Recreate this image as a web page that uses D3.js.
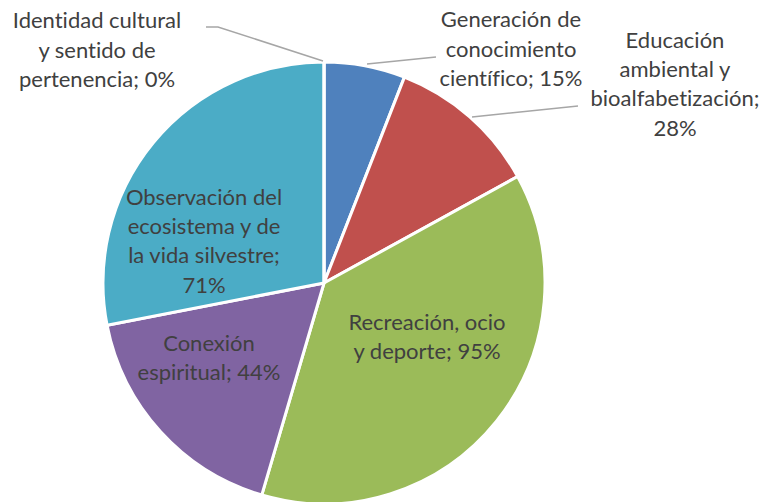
<!DOCTYPE html>
<html>
<head>
<meta charset="utf-8">
<script src="https://cdn.jsdelivr.net/npm/d3@7/dist/d3.min.js"></script>
<style>
  html, body { margin: 0; padding: 0; background: #fff; }
  svg { display: block; }
  text { font-family: Lato, "Open Sans", sans-serif; fill: #404040; font-variant-ligatures: none; }
</style>
</head>
<body>
<svg id="chart" width="767" height="502"></svg>
<script>
// Ecosystem services valued by respondents (percentages)
const categories = [
  "Generación de conocimiento científico",
  "Educación ambiental y bioalfabetización",
  "Recreación, ocio y deporte",
  "Conexión espiritual",
  "Observación del ecosistema y de la vida silvestre",
  "Identidad cultural y sentido de pertenencia"
];
const values = [15, 28, 95, 44, 71, 0];
const colors = ["#4F81BD", "#C0504D", "#9BBB59", "#8064A2", "#4BACC6", "#F79646"];

// Label text, broken into lines as drawn
const labelLines = [
  ["Generación de", "conocimiento", "científico; 15%"],
  ["Educación", "ambiental y", "bioalfabetización;", "28%"],
  ["Recreación, ocio", "y deporte; 95%"],
  ["Conexión", "espiritual; 44%"],
  ["Observación del", "ecosistema y de", "la vida silvestre;", "71%"],
  ["Identidad cultural", "y sentido de", "pertenencia; 0%"]
];

// Layout: label block centres and leader-line elbows (outside labels only)
const layout = {
  cx: 324, cy: 283, r: 221,
  lineHeight: 29.3,
  fontSize: 22,
  labels: [
    { x: 511, y: 49,  leader: [[367, 64], [436, 57]] },
    { x: 675, y: 84,  leader: [[472, 117], [578, 106]] },
    { x: 427, y: 337 },
    { x: 209, y: 358 },
    { x: 204, y: 241 },
    { x: 97,  y: 50,  leader: [[323, 61], [218, 27], [206, 27]] }
  ]
};

const svg = d3.select("#chart");
const g = svg.append("g").attr("transform", `translate(${layout.cx},${layout.cy})`);

const pie = d3.pie().sort(null).value(d => d)(values);
const arc = d3.arc().innerRadius(0).outerRadius(layout.r);

g.selectAll("path.slice")
  .data(pie)
  .join("path")
  .attr("class", "slice")
  .attr("d", arc)
  .attr("fill", (d, i) => colors[i])
  .attr("stroke", "#fff")
  .attr("stroke-width", 3)
  .attr("stroke-linejoin", "round");

// Leader lines
const line = d3.line();
layout.labels.forEach((L, i) => {
  if (!L.leader) return;
  svg.append("path")
    .attr("d", line(L.leader))
    .attr("fill", "none")
    .attr("stroke", "#A6A6A6")
    .attr("stroke-width", 1.5);
});

// Labels
layout.labels.forEach((L, i) => {
  const lines = labelLines[i];
  const t = svg.append("text")
    .attr("text-anchor", "middle")
    .attr("font-size", layout.fontSize);
  const y0 = L.y - (lines.length - 1) * layout.lineHeight / 2;
  lines.forEach((s, k) => {
    t.append("tspan")
      .attr("x", L.x)
      .attr("y", y0 + k * layout.lineHeight)
      .attr("dy", "0.35em")
      .text(s);
  });
});
</script>
</body>
</html>
